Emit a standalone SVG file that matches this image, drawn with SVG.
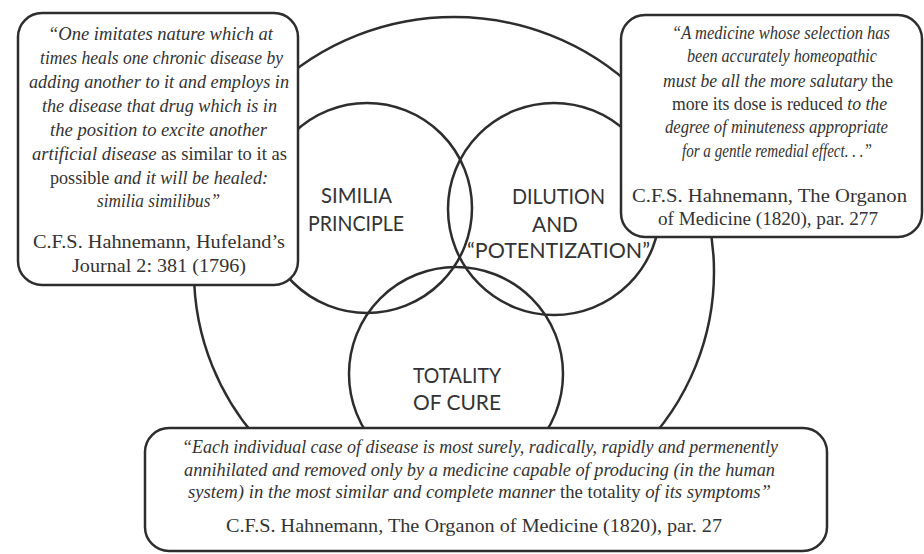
<svg xmlns="http://www.w3.org/2000/svg" width="924" height="554" viewBox="0 0 924 554">
<style>
.ln{fill:none;stroke:#2d2d2d;stroke-width:2.5}
.box{fill:#fff;stroke:#2d2d2d;stroke-width:2.5}
.q{font-family:"Liberation Serif",serif;font-size:18px;fill:#333}
.c{font-size:19px}
.i{font-style:italic}
.lab{font-family:Lato,"Liberation Sans",sans-serif;font-size:22px;fill:#333}
</style>
<rect width="924" height="554" fill="#fff"/>
<g id="connectors"></g>
<g id="outer-circle"><ellipse class="ln" cx="454" cy="272" rx="260" ry="255"/></g>
<g id="similia-principle">
<circle class="ln" cx="367" cy="208" r="105"/>
<text class="lab" x="321" y="203" textLength="71" lengthAdjust="spacingAndGlyphs">SIMILIA</text>
<text class="lab" x="308" y="231" textLength="96" lengthAdjust="spacingAndGlyphs">PRINCIPLE</text>
</g>
<g id="dilution-potentization">
<circle class="ln" cx="554" cy="209" r="106"/>
<text class="lab" x="512" y="204" textLength="93" lengthAdjust="spacingAndGlyphs">DILUTION</text>
<text class="lab" x="532" y="232" textLength="46" lengthAdjust="spacingAndGlyphs">AND</text>
<text class="lab" x="467" y="258" textLength="183" lengthAdjust="spacingAndGlyphs">“POTENTIZATION”</text>
</g>
<g id="totality-of-cure">
<circle class="ln" cx="456" cy="374" r="107"/>
<text class="lab" x="413" y="383" textLength="88" lengthAdjust="spacingAndGlyphs">TOTALITY</text>
<text class="lab" x="413" y="410" textLength="88" lengthAdjust="spacingAndGlyphs">OF CURE</text>
</g>
<g id="quote-left">
<rect class="box" x="18" y="13" width="280" height="272" rx="24"/>
<text class="q i" x="48" y="40" textLength="225" lengthAdjust="spacingAndGlyphs">“One imitates nature which at</text>
<text class="q i" x="40" y="64" textLength="243" lengthAdjust="spacingAndGlyphs">times heals one chronic disease by</text>
<text class="q i" x="29" y="88" textLength="260" lengthAdjust="spacingAndGlyphs">adding another to it and employs in</text>
<text class="q i" x="42" y="112" textLength="235" lengthAdjust="spacingAndGlyphs">the disease that drug which is in</text>
<text class="q i" x="50" y="136" textLength="217" lengthAdjust="spacingAndGlyphs">the position to excite another</text>
<text class="q" x="32" y="160" textLength="255" lengthAdjust="spacingAndGlyphs"><tspan class="i">artificial disease</tspan> as similar to it as</text>
<text class="q" x="50" y="184" textLength="218" lengthAdjust="spacingAndGlyphs">possible <tspan class="i">and it will be healed:</tspan></text>
<text class="q i" x="97" y="207" textLength="123" lengthAdjust="spacingAndGlyphs">similia similibus”</text>
<text class="q c" x="33" y="248" textLength="252" lengthAdjust="spacingAndGlyphs">C.F.S. Hahnemann, Hufeland’s</text>
<text class="q c" x="72" y="272" textLength="174" lengthAdjust="spacingAndGlyphs">Journal 2: 381 (1796)</text>
</g>
<g id="quote-right">
<rect class="box" x="621" y="15" width="301" height="222" rx="24"/>
<text class="q i" x="672" y="39" textLength="218" lengthAdjust="spacingAndGlyphs">“A medicine whose selection has</text>
<text class="q i" x="687" y="62" textLength="190" lengthAdjust="spacingAndGlyphs">been accurately homeopathic</text>
<text class="q" x="663" y="87" textLength="230" lengthAdjust="spacingAndGlyphs"><tspan class="i">must be all the more salutary</tspan> the</text>
<text class="q" x="672" y="110" textLength="215" lengthAdjust="spacingAndGlyphs">more its dose is reduced <tspan class="i">to the</tspan></text>
<text class="q i" x="665" y="133" textLength="223" lengthAdjust="spacingAndGlyphs">degree of minuteness appropriate</text>
<text class="q i" x="682" y="157" textLength="190" lengthAdjust="spacingAndGlyphs">for a gentle remedial effect. . .”</text>
<text class="q c" x="632" y="202" textLength="275" lengthAdjust="spacingAndGlyphs">C.F.S. Hahnemann, The Organon</text>
<text class="q c" x="658" y="225" textLength="220" lengthAdjust="spacingAndGlyphs">of Medicine (1820), par. 277</text>
</g>
<g id="quote-bottom">
<rect class="box" x="145" y="428" width="682" height="123" rx="24"/>
<text class="q i" x="182" y="453" textLength="596" lengthAdjust="spacingAndGlyphs">“Each individual case of disease is most surely, radically, rapidly and permenently</text>
<text class="q i" x="184" y="476" textLength="591" lengthAdjust="spacingAndGlyphs">annihilated and removed only by a medicine capable of producing (in the human</text>
<text class="q" x="188" y="498" textLength="583" lengthAdjust="spacingAndGlyphs"><tspan class="i">system) in the most similar and complete manner</tspan> the totality <tspan class="i">of its symptoms”</tspan></text>
<text class="q c" x="226" y="532" textLength="496" lengthAdjust="spacingAndGlyphs">C.F.S. Hahnemann, The Organon of Medicine (1820), par. 27</text>
</g>
</svg>
